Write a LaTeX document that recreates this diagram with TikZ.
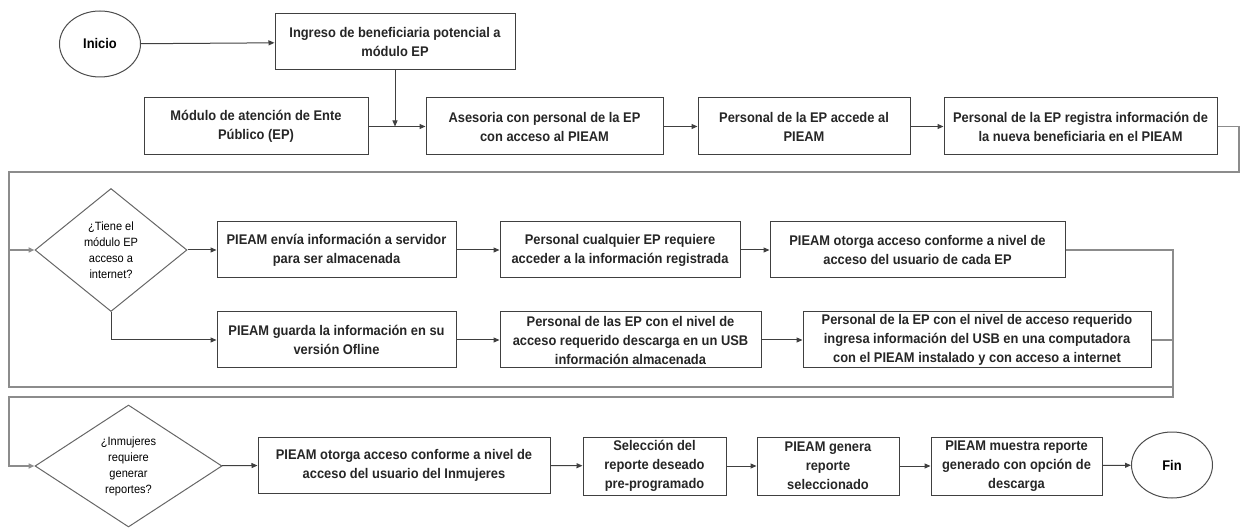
\documentclass[tikz,border=0pt]{standalone}
\usepackage{fontspec}
\setmainfont{Liberation Sans}[FakeStretch=0.92]
\usetikzlibrary{shapes.geometric,arrows.meta}

\begin{document}
\begin{tikzpicture}[
  x=1pt, y=-1pt,
  caja/.style={draw=black!75, line width=1pt, align=center, inner sep=1pt,
    minimum height=56pt, text=black!85, font=\fontsize{14}{19}\selectfont\bfseries},
  extremo/.style={ellipse, draw=black!70, line width=1pt, minimum width=81pt,
    minimum height=66pt, font=\fontsize{14}{17}\selectfont\bfseries},
  pregunta/.style={diamond, draw=black!60, line width=1pt, align=center,
    inner sep=0pt, font=\fontsize{12}{16}\selectfont},
  flecha/.style={draw=black!75, line width=1pt, -{Triangle[length=6pt,width=5pt]}},
  marco/.style={draw=black!45, line width=1.5pt},
]
\useasboundingbox (0,0) rectangle (1240,529);

% fila 1
\node[extremo] (inicio) at (100,44) {Inicio};
\node[caja, minimum width=240pt] (ingreso) at (395,42) {Ingreso de beneficiaria potencial a\\ módulo EP};
\node[caja, minimum width=224pt, minimum height=57pt] (modulo) at (256,126.5) {Módulo de atención de Ente\\ Público (EP)};
\node[caja, minimum width=237pt, minimum height=57pt] (asesoria) at (544.5,126.5) {Asesoria con personal de la EP\\ con acceso al PIEAM};
\node[caja, minimum width=212pt, minimum height=57pt] (accede) at (804,126.5) {Personal de la EP accede al\\ PIEAM};
\node[caja, minimum width=273pt, minimum height=57pt] (registra) at (1080.5,126.5) {Personal de la EP registra información de\\ la nueva beneficiaria en el PIEAM};

% fila 2
\node[pregunta, minimum width=152pt, minimum height=123pt] (pregunta1) at (111,250) {¿Tiene el\\ módulo EP\\ acceso a\\ internet?};
\node[caja, minimum width=239pt] (envia) at (336.5,250) {PIEAM envía información a servidor\\ para ser almacenada};
\node[caja, minimum width=240pt] (cualquier) at (620,250) {Personal cualquier EP requiere\\ acceder a la información registrada};
\node[caja, minimum width=295pt] (otorga) at (917.5,250) {PIEAM otorga acceso conforme a nivel de\\ acceso del usuario de cada EP};
\node[caja, minimum width=239pt] (guarda) at (336.5,340) {PIEAM guarda la información en su\\ versión Ofline};
\node[caja, minimum width=261pt] (descarga) at (630.5,340) {Personal de las EP con el nivel de\\ acceso requerido descarga en un USB\\ información almacenada};
\node[caja, minimum width=348pt] (ingresa) at (977,340) {Personal de la EP con el nivel de acceso requerido\\ ingresa información del USB en una computadora\\ con el PIEAM instalado y con acceso a internet};

% fila 3
\node[pregunta, minimum width=187pt, minimum height=122pt] (pregunta2) at (128.5,466) {¿Inmujeres\\ requiere\\ generar\\ reportes?};
\node[caja, minimum width=292pt] (otorgain) at (404,465) {PIEAM otorga acceso conforme a nivel de\\ acceso del usuario del Inmujeres};
\node[caja, minimum width=143pt, minimum height=58pt] (seleccion) at (654.5,466) {Selección del\\ reporte deseado\\ pre-programado};
\node[caja, minimum width=142pt, minimum height=58pt] (genera) at (828,466) {PIEAM genera\\ reporte\\ seleccionado};
\node[caja, minimum width=171pt, minimum height=58pt] (muestra) at (1016.5,466) {PIEAM muestra reporte\\ generado con opción de\\ descarga};
\node[extremo] (fin) at (1172,465) {Fin};

\coordinate (esq1) at (1239,172);
\coordinate (esq2) at (9,172);
\coordinate (esq3) at (1173,387);
\coordinate (esq4) at (1173,397);
\coordinate (esq5) at (9,397);

% conectores
\draw[flecha] (inicio) -- (ingreso);
\draw[flecha] (ingreso.south) -- (ingreso.south |- modulo.east);
\draw[flecha] (modulo) -- (asesoria);
\draw[flecha] (asesoria) -- (accede);
\draw[flecha] (accede) -- (registra);
\draw[flecha, marco] (registra.east) -| (esq1) -- (esq2) |- (pregunta1.west);
\draw[marco] (pregunta1.west -| esq2) |- (esq3);

\draw[flecha] (pregunta1) -- (envia);
\draw[flecha] (envia) -- (cualquier);
\draw[flecha] (cualquier) -- (otorga);
\draw[flecha] (pregunta1.south) |- (guarda.west);
\draw[flecha] (guarda) -- (descarga);
\draw[flecha] (descarga) -- (ingresa);
\draw[flecha, marco] (otorga.east) -| (esq4) -- (esq5) |- (pregunta2.west);
\draw[marco] (ingresa.east) -- (ingresa.east -| esq4);

\draw[flecha] (pregunta2) -- (otorgain);
\draw[flecha] (otorgain) -- (seleccion);
\draw[flecha] (seleccion) -- (genera);
\draw[flecha] (genera) -- (muestra);
\draw[flecha] (muestra) -- (fin);
\end{tikzpicture}
\end{document}
